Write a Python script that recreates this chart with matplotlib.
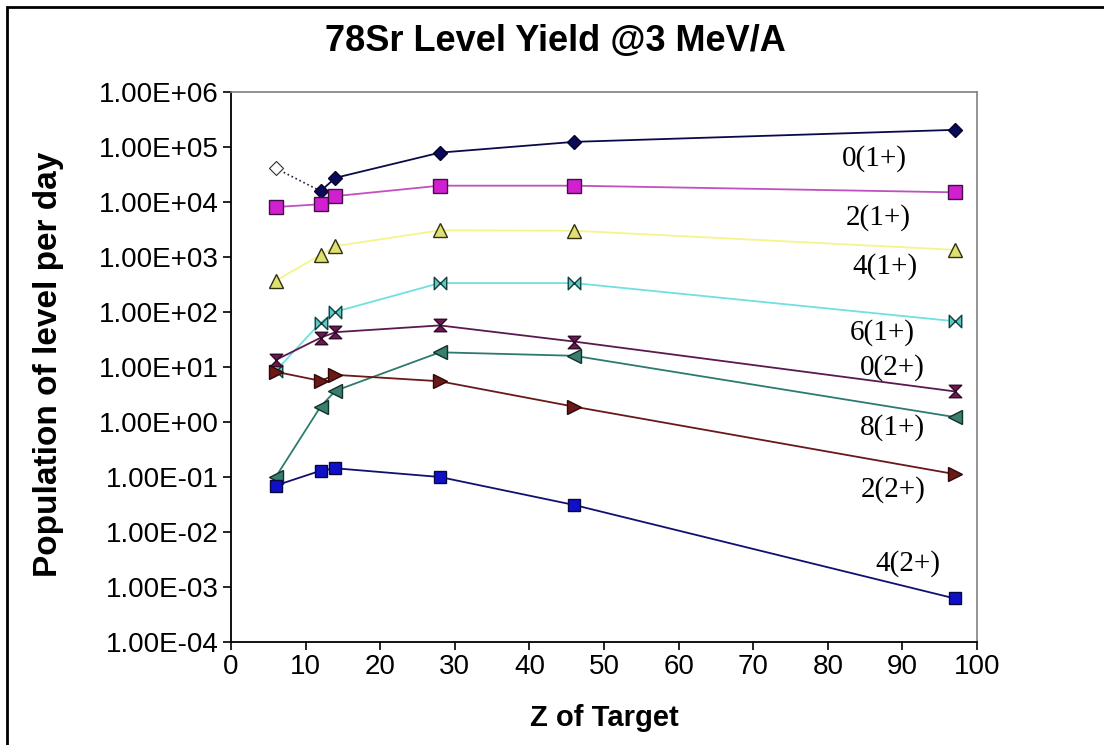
import numpy as np
import matplotlib
matplotlib.use("Agg")
import matplotlib.pyplot as plt
from matplotlib.path import Path
from matplotlib.patches import Rectangle
from matplotlib.ticker import FuncFormatter, FixedLocator, NullLocator

plt.rcParams["font.family"] = ["Liberation Sans", "DejaVu Sans"]

Z_TARGET = [6, 12, 14, 28, 46, 97]

LEVEL_NAMES = ["0(1+)", "2(1+)", "4(1+)", "6(1+)", "0(2+)", "8(1+)", "2(2+)", "4(2+)"]
YIELD_0_1 = [4.1e4, 1.58e4, 2.75e4, 7.9e4, 1.24e5, 2.05e5]
YIELD_2_1 = [8.1e3, 9.1e3, 1.28e4, 1.98e4, 1.98e4, 1.5e4]
YIELD_4_1 = [370, 1.09e3, 1.58e3, 3.05e3, 3.0e3, 1.35e3]
YIELD_6_1 = [8.5, 64, 101, 336, 336, 68]
YIELD_0_2 = [13.4, 34, 43, 57, 29, 3.6]
YIELD_8_1 = [0.10, 1.9, 3.7, 18.5, 16.0, 1.23]
YIELD_2_2 = [8.2, 5.6, 7.2, 5.5, 1.9, 0.113]
YIELD_4_2 = [0.07, 0.13, 0.144, 0.10, 0.031, 6.2e-4]

# where the level names sit (x, y in data units)
LABEL_POS = [(86.3, 6.3e4), (86.7, 5.3e3), (87.7, 660), (87.3, 41.5),
             (88.7, 9.6), (88.7, 0.81), (88.7, 0.058), (90.8, 2.7e-3)]

BOWTIE = Path([(-1, -1), (1, 1), (1, -1), (-1, 1), (-1, -1)],
              [Path.MOVETO, Path.LINETO, Path.LINETO, Path.LINETO, Path.CLOSEPOLY])
HOURGLASS = Path([(-1, 1), (1, 1), (-1, -1), (1, -1), (-1, 1)],
                 [Path.MOVETO, Path.LINETO, Path.LINETO, Path.LINETO, Path.CLOSEPOLY])

# line colour, marker, marker face, marker edge, marker size
STYLES = [
    ("#0a0a4a", "D", "#0a0a5a", "#05052a", 7.5),
    ("#c050c0", "s", "#d020d0", "#401040", 9.5),
    ("#f4f48a", "^", "#e0e070", "#303010", 9.5),
    ("#70e0e0", BOWTIE, "#60c8c0", "#104040", 9),
    ("#5a1a50", HOURGLASS, "#6a1a50", "#300a28", 9),
    ("#2e7a6e", "<", "#3a7e70", "#103028", 9.5),
    ("#6a1818", ">", "#6a1818", "#300808", 9.5),
    ("#101070", "s", "#1010c8", "#080840", 8.5),
]


def y_fmt(v, pos):
    return f"{v:.2E}"


def main():
    series = [YIELD_0_1, YIELD_2_1, YIELD_4_1, YIELD_6_1,
              YIELD_0_2, YIELD_8_1, YIELD_2_2, YIELD_4_2]

    fig = plt.figure(figsize=(11.04, 7.45), dpi=100)
    ax = fig.add_axes([231 / 1104, 103 / 745, 746 / 1104, 550 / 745])

    for i, (vals, st) in enumerate(zip(series, STYLES)):
        lc, mk, mf, me, ms = st
        if i == 0:
            # first point is hollow, joined by a dotted segment
            ax.plot(Z_TARGET[:2], vals[:2], color="#202040", lw=1.2, ls=":",
                    marker="D", markevery=[0], ms=ms, mfc="white", mec="#303030",
                    mew=0.8, zorder=3)
            ax.plot(Z_TARGET[1:], vals[1:], color=lc, lw=1.3, marker=mk,
                    ms=ms, mfc=mf, mec=me, mew=1.0, zorder=3)
        else:
            ax.plot(Z_TARGET, vals, color=lc, lw=1.3, marker=mk,
                    ms=ms, mfc=mf, mec=me, mew=1.0, zorder=3)

    for name, (lx, ly) in zip(LEVEL_NAMES, LABEL_POS):
        ax.text(lx, ly, name, fontsize=21, family="Liberation Serif",
                ha="center", va="center")

    ax.set_yscale("log")
    ax.set_xlim(0, 100)
    ax.set_ylim(1e-4, 1e6)
    ax.set_xticks(np.arange(0, 101, 10))
    ax.yaxis.set_major_locator(FixedLocator([10.0 ** k for k in range(-4, 7)]))
    ax.yaxis.set_minor_locator(NullLocator())
    ax.yaxis.set_major_formatter(FuncFormatter(y_fmt))
    ax.tick_params(axis="both", direction="out", length=6, width=1.2,
                   labelsize=20, pad=3)

    for side in ["left", "bottom"]:
        ax.spines[side].set_color("black")
        ax.spines[side].set_linewidth(1.3)
    for side in ["top", "right"]:
        ax.spines[side].set_color("#808080")
        ax.spines[side].set_linewidth(1.2)

    ax.set_xlabel("Z of Target", fontsize=21, fontweight="bold")
    ax.xaxis.set_label_coords(0.5, -0.138)
    ax.xaxis.label.set_va("center")
    ax.set_ylabel("Population of level per day", fontsize=24,
                  fontweight="bold")
    ax.yaxis.set_label_coords(-0.245, 0.504)
    ax.yaxis.label.set_va("center")
    fig.text(555 / 1104, 1 - 41 / 745, "78Sr Level Yield @3 MeV/A",
             fontsize=26, fontweight="bold", ha="center", va="center")

    top = 1 - 7 / 745
    fig.add_artist(Rectangle((7 / 1104, -0.1), 1.1, top + 0.1,
                             transform=fig.transFigure, fill=False,
                             lw=2, ec="black"))

    fig.savefig("out.png", dpi=100)


if __name__ == "__main__":
    main()
